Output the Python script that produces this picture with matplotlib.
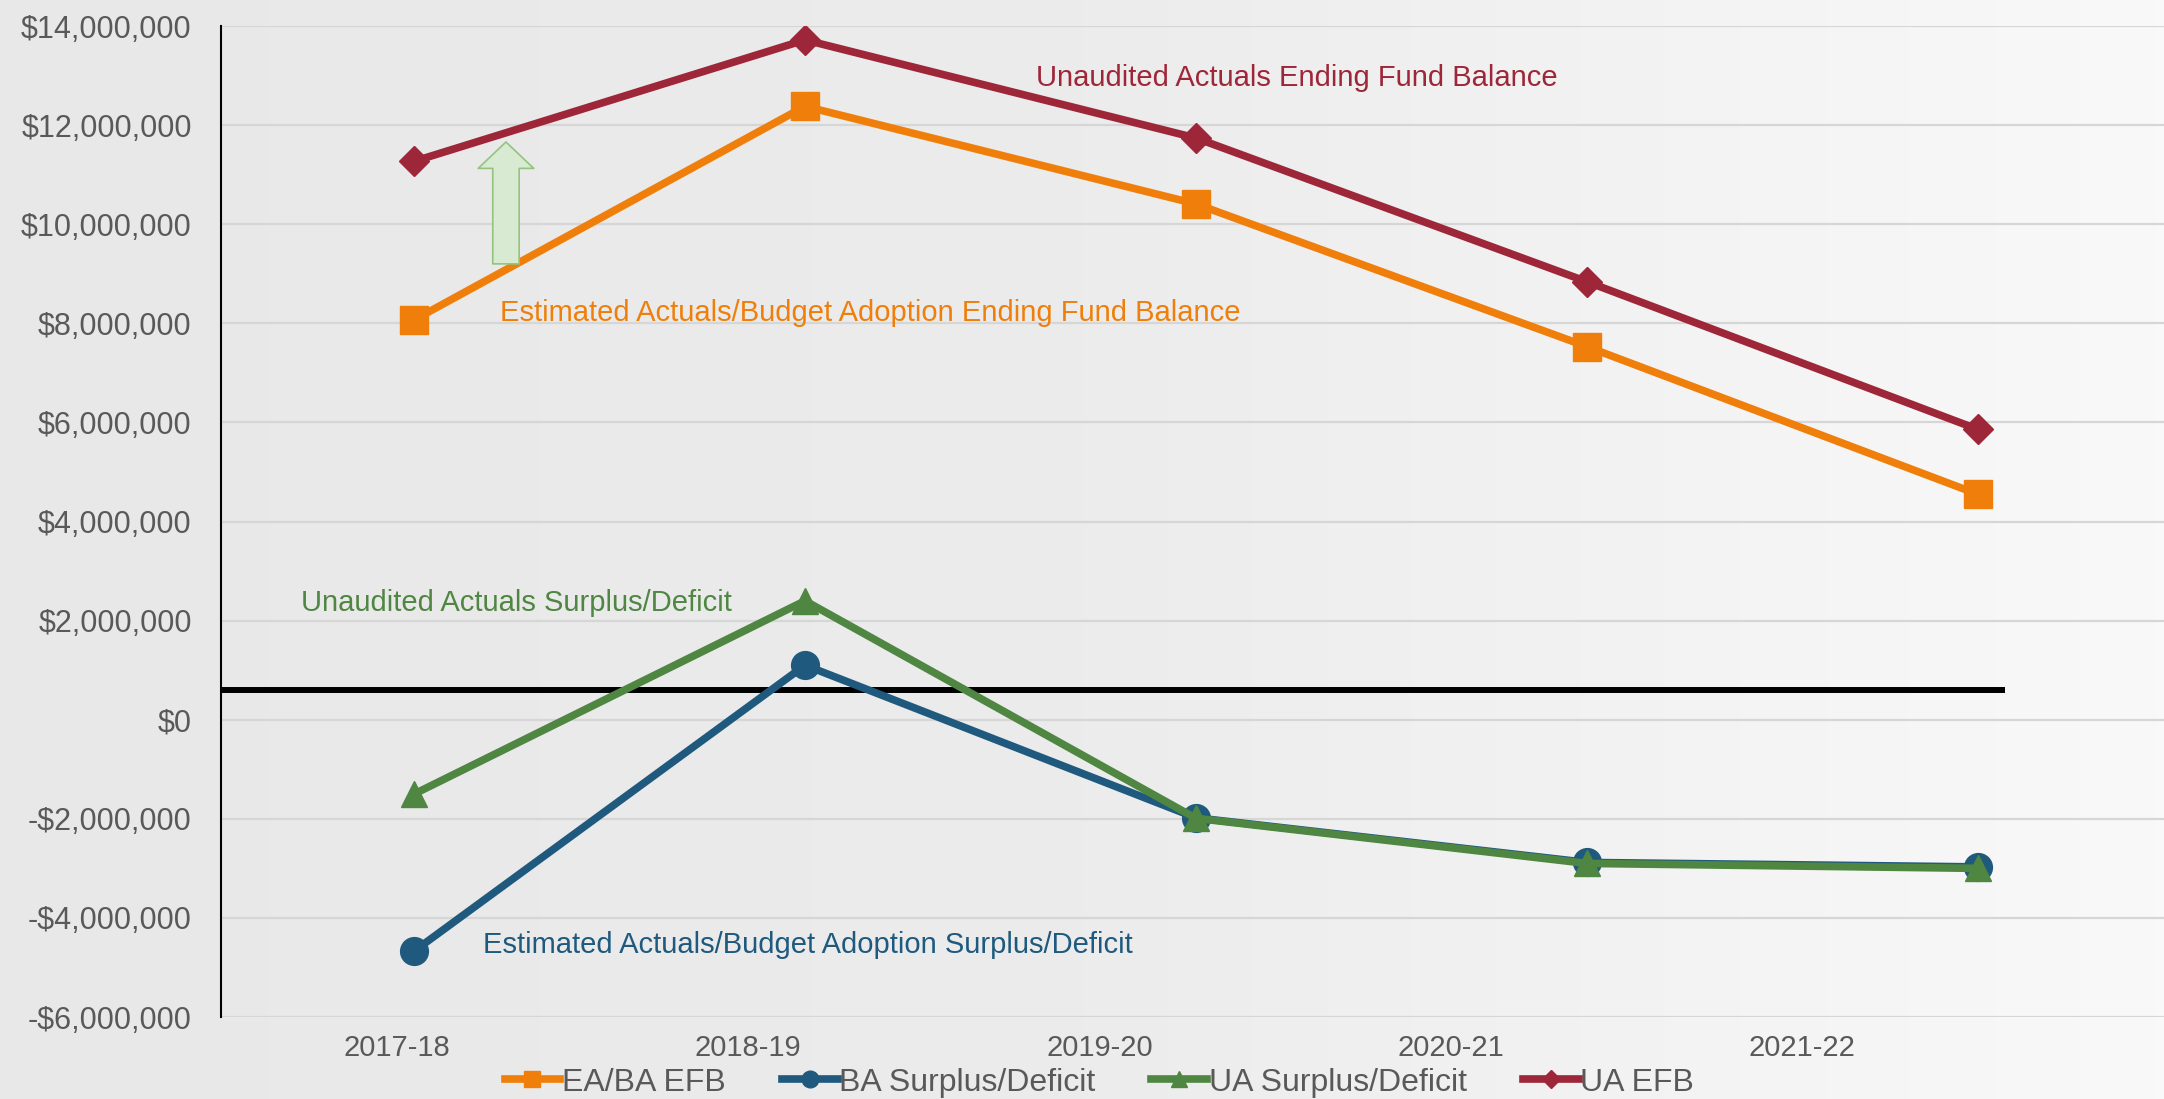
import numpy as np
import matplotlib
matplotlib.use("Agg")
import matplotlib.pyplot as plt
from matplotlib.patches import FancyArrowPatch, ArrowStyle
from matplotlib.ticker import FuncFormatter

plt.rcParams['font.family'] = ['Liberation Sans', 'DejaVu Sans']

# data
years = ['2017-18', '2018-19', '2019-20', '2020-21', '2021-22']
ea_ba_efb = [8.07e6, 12.38e6, 10.41e6, 7.53e6, 4.55e6]
ba_surplus = [-4.67e6, 1.10e6, -1.98e6, -2.88e6, -2.97e6]
ua_surplus = [-1.50e6, 2.40e6, -1.99e6, -2.90e6, -3.00e6]
ua_efb = [11.27e6, 13.72e6, 11.74e6, 8.84e6, 5.86e6]
ref_level = 0.6e6

c_orange = '#EF7F0A'
c_blue = '#1F5A7E'
c_green = '#4F8642'
c_red = '#9E2639'
c_text = '#595959'

fig = plt.figure(figsize=(21.64, 10.99), dpi=100)

# light grey -> white gradient background
bg = fig.add_axes([0, 0, 1, 1], zorder=-10)
grad = np.linspace(0, 1, 256).reshape(1, -1)
bg.imshow(grad, aspect='auto', cmap=matplotlib.colors.LinearSegmentedColormap.from_list(
    'bg', ['#e8e8e8', '#ececec', '#f9f9f9']), extent=[0, 1, 0, 1])
bg.axis('off')

ax = fig.add_axes([0.1021, 0.0746, 0.8979, 0.9017])
ax.set_facecolor('none')

x = np.arange(len(years))
xmin, xmax = -0.494, 4.476
ax.set_xlim(xmin, xmax)
ax.set_ylim(-6e6, 14e6)
ax.set_yticks(np.arange(-6e6, 14.1e6, 2e6))
ax.yaxis.set_major_formatter(FuncFormatter(
    lambda v, p: ('-$' if v < 0 else '$') + format(int(abs(round(v))), ',')))
ax.grid(axis='y', color='#d6d6d6', linewidth=1.6, zorder=0)
for s in ['top', 'right', 'bottom']:
    ax.spines[s].set_visible(False)
ax.spines['left'].set_color('black')
ax.spines['left'].set_linewidth(1.5)

# category labels sit on their own evenly split band
band = (x[-1] - xmin) / len(years)
ax.set_xticks(xmin + (x + 0.5) * band)
ax.set_xticklabels(years)
ax.tick_params(axis='both', length=0, colors=c_text)
ax.tick_params(axis='y', labelsize=22, pad=21)
ax.tick_params(axis='x', labelsize=21, pad=12)

ax.hlines(ref_level, xmin, 4.07, color='black', linewidth=4.3, zorder=2)

ax.plot(x, ea_ba_efb, color=c_orange, lw=5.5, marker='s', ms=20, label='EA/BA EFB', zorder=3)
ax.plot(x, ba_surplus, color=c_blue, lw=5.5, marker='o', ms=20, label='BA Surplus/Deficit', zorder=3)
ax.plot(x, ua_surplus, color=c_green, lw=5.5, marker='^', ms=19, label='UA Surplus/Deficit', zorder=4)
ax.plot(x, ua_efb, color=c_red, lw=5.5, marker='D', ms=15, label='UA EFB', zorder=4)

ax.text(1.59, 12.95e6, 'Unaudited Actuals Ending Fund Balance', color=c_red, fontsize=21, va='center')
ax.text(0.22, 8.2e6, 'Estimated Actuals/Budget Adoption Ending Fund Balance', color=c_orange, fontsize=21, va='center')
ax.text(-0.29, 2.35e6, 'Unaudited Actuals Surplus/Deficit', color=c_green, fontsize=21, va='center')
ax.text(0.176, -4.55e6, 'Estimated Actuals/Budget Adoption Surplus/Deficit', color=c_blue, fontsize=21, va='center')

arrow = FancyArrowPatch((0.235, 9.2e6), (0.235, 11.66e6),
                        arrowstyle=ArrowStyle.Simple(head_length=19, head_width=40, tail_width=19),
                        mutation_scale=1, shrinkA=0, shrinkB=0,
                        facecolor='#d9ead3', edgecolor='#93c47d', lw=1.2, zorder=5)
ax.add_patch(arrow)

leg = fig.legend(loc='center', bbox_to_anchor=(0.508, 0.015), ncol=4, frameon=False,
                 fontsize=23, labelcolor=c_text, markerscale=0.6, handlelength=1.75,
                 handletextpad=0.05, columnspacing=1.75, borderpad=0)

fig.savefig('out.png', dpi=100)
